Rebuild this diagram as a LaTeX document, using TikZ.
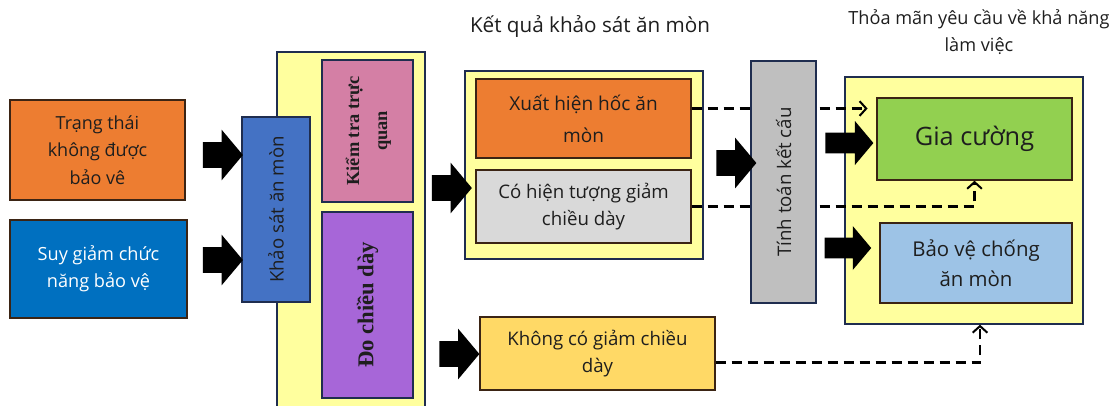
\documentclass[tikz,border=0pt]{standalone}
\usepackage{fontspec}
\setmainfont{Open Sans}
\newfontfamily\tnr{Liberation Serif}
\usetikzlibrary{fit,calc,shapes.arrows,arrows.meta,shadows}

\definecolor{boxline}{HTML}{3B2414}
\definecolor{navyline}{HTML}{1F2D4F}
\definecolor{paleyel}{HTML}{FFFF9E}
\definecolor{orangefill}{HTML}{ED7D31}
\definecolor{bluefill}{HTML}{0070C0}
\definecolor{surveyblue}{HTML}{4472C4}
\definecolor{pinkfill}{HTML}{D47FA5}
\definecolor{purplefill}{HTML}{A766D8}
\definecolor{grayfill}{HTML}{D9D9D9}
\definecolor{darkgray}{HTML}{BFBFBF}
\definecolor{goldfill}{HTML}{FFD966}
\definecolor{greenfill}{HTML}{92D050}
\definecolor{skyfill}{HTML}{9DC3E6}
\definecolor{txt}{HTML}{1E1E1E}

\def\u{0.75pt}

\tikzset{
	box/.style={draw=boxline,line width=1.1pt,inner sep=0pt,align=center,text=txt,
		font=\fontsize{14}{20.5}\selectfont,
		drop shadow={shadow xshift=1pt,shadow yshift=-1pt,fill=boxline,opacity=1}},
	frame/.style={draw=navyline,line width=1pt,fill=paleyel,inner sep=0pt},
	blockarrow/.style={single arrow,fill=black,draw=none,inner xsep=0pt,inner ysep=9.4pt,
		minimum height=30pt,minimum width=37.5pt,single arrow head extend=9.4pt,
		single arrow tip angle=100},
	dashconn/.style={line width=2.2pt,dash pattern=on 7.5pt off 4.5pt,
		-{Straight Barb[length=5pt,width=11pt,line width=1.5pt]}},
}

\begin{document}
\begin{tikzpicture}[x=0.75pt,y=-0.75pt]
	\useasboundingbox[fill=white] (0,0) rectangle (1116,405);

	\node[box,fill=orangefill,minimum width=175*\u,minimum height=100*\u,font=\fontsize{13.5}{20.5}\selectfont] (trang) at (97.5,150) {Trạng thái\\không được\\bảo vê};
	\node[box,fill=bluefill,text=white,minimum width=177*\u,minimum height=98*\u,font=\fontsize{13.6}{20.5}\selectfont] (suy) at (98.5,269) {Suy giảm chức\\năng bảo vệ};

	\node[frame,fit={(277,52) (425,412)}] (lframe) {};
	\node[box,fill=surveyblue,draw=navyline,minimum width=68*\u,minimum height=185*\u] (khaosat) at (276,209.5) {\rotatebox{90}{Khảo sát ăn mòn}};
	\node[box,fill=pinkfill,draw=navyline,minimum width=91*\u,minimum height=142*\u] (kiemtra) at (367.5,131)
		{\rotatebox{90}{\fontsize{13.8}{21}\selectfont\tnr\bfseries\begin{tabular}{@{}c@{}}Kiểm tra trực\\quan\end{tabular}}};
	\node[box,fill=purplefill,draw=navyline,minimum width=91*\u,minimum height=186*\u] (dochieu) at (367.5,305)
		{\rotatebox{90}{\fontsize{17}{20}\selectfont\tnr\bfseries Đo chiều dày}};

	\node[text=txt,font=\fontsize{15.5}{20}\selectfont] (kqtitle) at (590,27) {Kết quả khảo sát ăn mòn};
	\node[frame,fit={(465,71) (703,259)}] (mframe) {};
	\node[box,fill=orangefill,font=\fontsize{14.3}{24}\selectfont,minimum width=215*\u,minimum height=79*\u] (xuat) at (583.5,118.5) {Xuất hiện hốc ăn\\mòn};
	\node[box,fill=grayfill,minimum width=215*\u,minimum height=73*\u] (cohien) at (583.5,206.5) {Có hiện tượng giảm\\chiều dày};
	\node[box,fill=goldfill,minimum width=235*\u,minimum height=73*\u] (khong) at (597.5,353.5) {Không có giảm chiều\\dày};

	\node[text=txt,align=center,font=\fontsize{13.6}{20}\selectfont] (tmtitle) at (979,32) {Thỏa mãn yêu cầu về khả năng\\làm việc};
	\node[frame,fit={(845,77) (1083,324)}] (rframe) {};
	\node[box,fill=greenfill,font=\fontsize{19}{22}\selectfont,minimum width=195*\u,minimum height=82*\u] (gia) at (974.5,139) {Gia cường};
	\node[box,fill=skyfill,font=\fontsize{15.3}{22.5}\selectfont,minimum width=192*\u,minimum height=80*\u] (baove) at (976,263) {Bảo vệ chống\\ăn mòn};

	\coordinate (xs) at ([yshift=7.5pt]xuat.east);
	\coordinate (ks) at ([yshift=-7pt]khong.east);
	\coordinate (rt) at ([xshift=12pt]rframe.south);
	\draw[dashconn,shorten >=6.5pt] (xs) -- (xs -| gia.west);
	\draw[dashconn] (cohien.east) -| (gia.south);
	\draw[dashconn] (ks) -| (rt);

	\node[box,fill=darkgray,draw=navyline,minimum width=65*\u,minimum height=242*\u,font=\fontsize{14}{20}\selectfont] (tinh) at (783.5,182) {\rotatebox{90}{Tính toán kết cấu}};

	\node[blockarrow] (a1) at (217.5,155) {};
	\node[blockarrow] (a2) at (217.5,260) {};
	\node[blockarrow] (a3) at (446.5,188) {};
	\node[blockarrow] (a4) at (454,354) {};
	\node[blockarrow] (a5) at (731,163) {};
	\node[blockarrow,minimum height=36pt,minimum width=33pt,inner ysep=7pt,single arrow head extend=8pt] (a6) at (845,143) {};
	\node[blockarrow,minimum height=35pt,minimum width=33pt,inner ysep=7pt,single arrow head extend=8pt] (a7) at (843.5,248) {};
\end{tikzpicture}
\end{document}
